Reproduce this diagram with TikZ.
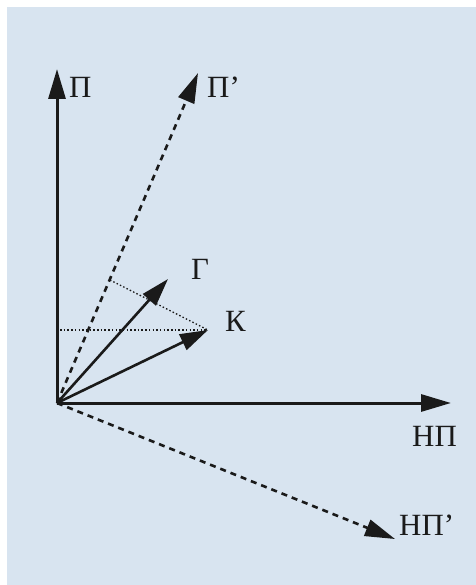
\documentclass[tikz,border=0pt]{standalone}
\usepackage{fontspec}
\setmainfont{Liberation Serif}
\usetikzlibrary{arrows.meta}
\definecolor{bgblue}{HTML}{D8E4F0}
\definecolor{ink}{HTML}{1A1A1A}
\begin{document}
\begin{tikzpicture}[x=1bp,y=-1bp,
  axis/.style={draw=ink,line width=3bp,-{Triangle[length=30bp,width=17bp]}},
  vec/.style={draw=ink,line width=2.6bp,-{Triangle[length=28bp,width=17bp]}},
  dashaxis/.style={draw=ink,line width=2.6bp,dash pattern=on 6bp off 5bp,-{Triangle[length=30bp,width=17bp]}},
  proj/.style={draw=ink,line width=1.3bp,dash pattern=on 1.5bp off 2.2bp},
  lab/.style={inner sep=0pt,anchor=base west,font=\fontsize{31}{31}\selectfont,text=ink}]
\useasboundingbox (0,0) rectangle (476,585);
\fill[white] (0,0) rectangle (476,585);
\fill[bgblue] (7,7) rectangle (476,585);
\coordinate (O) at (57,403);
\coordinate (P) at (57,69);
\coordinate (Pp) at (198,73);
\coordinate (G) at (168,279);
\coordinate (K) at (208,330);
\coordinate (N) at (451,403);
\coordinate (Np) at (395,539);
\coordinate (KH) at (60,330);
\coordinate (KP) at (110,280);
\draw[proj] (KH) -- (K);
\draw[proj] (KP) -- (K);
\draw[axis] (O) -- (P);
\draw[axis] (O) -- (N);
\draw[dashaxis] (O) -- (Pp);
\draw[dashaxis] (O) -- (Np);
\draw[vec] (O) -- (G);
\draw[vec] (O) -- (K);
\node[lab] (lP) at (69,98) {П};
\node[lab] (lPp) at (207,98) {П’};
\node[lab] (lG) at (191,279) {Г};
\node[lab] (lK) at (225,331) {К};
\node[lab] (lN) at (412,446) {НП};
\node[lab] (lNp) at (399,535) {НП’};
\end{tikzpicture}
\end{document}
